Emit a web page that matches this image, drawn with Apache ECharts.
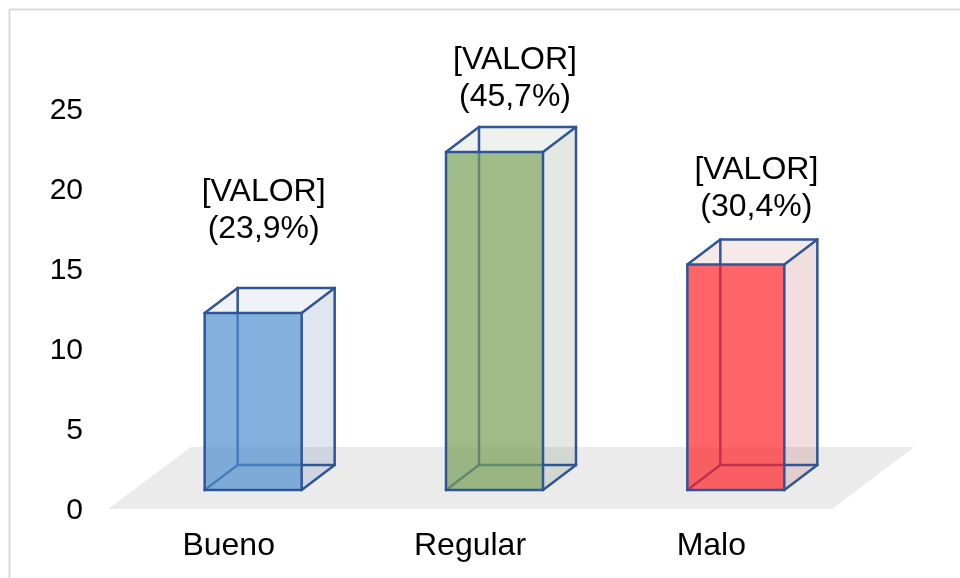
<!DOCTYPE html>
<html>
<head>
<meta charset="utf-8">
<style>html,body{margin:0;padding:0;background:#fff}#c{width:960px;height:578px}</style>
<script src="https://cdn.jsdelivr.net/npm/echarts@6/dist/echarts.min.js"></script>
</head>
<body>
<div id="c"></div>
<script>
const categories = ['Bueno', 'Regular', 'Malo'];
const values = [11, 21, 14];
const percents = ['23,9%', '45,7%', '30,4%'];
const tickValues = [0, 5, 10, 15, 20, 25];

const faceColors = [
  {front: 'rgba(78,142,205,0.7)', side: 'rgba(47,85,151,0.15)', top: 'rgba(47,85,151,0.08)'},
  {front: 'rgba(118,159,85,0.7)', side: 'rgba(68,102,62,0.15)', top: 'rgba(68,102,62,0.09)'},
  {front: 'rgba(255,34,41,0.7)', side: 'rgba(162,42,42,0.15)', top: 'rgba(162,42,42,0.1)'}
];
const edge = '#2f5597';
const FONT = '"Liberation Sans", Arial, sans-serif';
const labelShiftX = [35, 45, 45];
const labelShiftY = [-65, -36, -39];

const DX = 33, DY = -25, BAR = 97, SHIFT = 24.5;

function renderFloor(params, api) {
  const a = api.coord([0, 0]);
  const b = api.coord([2, 0]);
  const band = api.size([1, 0])[0];
  const yFront = a[1] + 19;
  const yBack = a[1] - 43;
  const xl = a[0] - band / 2;
  const xr = b[0] + band / 2;
  return {
    type: 'polygon', silent: true,
    shape: {points: [[xl, yFront], [xr, yFront], [xr + 82, yBack], [xl + 83, yBack]]},
    style: {fill: '#ebebeb'}
  };
}

function line(p, q, stroke) {
  return {type: 'line', shape: {x1: p[0], y1: p[1], x2: q[0], y2: q[1]},
    style: {stroke: stroke, lineWidth: 2.5, lineCap: 'round'}};
}
function poly(points, fill) {
  return {type: 'polygon', shape: {points: points}, style: {fill: fill}};
}

function renderBar(params, api) {
  const i = api.value(0);
  const top = api.coord([i, api.value(1)]);
  const base = api.coord([i, 0]);
  const c = faceColors[i];
  const x0 = top[0] + SHIFT - BAR / 2;
  const x1 = x0 + BAR;
  const yT = top[1], yB = base[1];
  const fTL = [x0, yT], fTR = [x1, yT], fBL = [x0, yB], fBR = [x1, yB];
  const bTL = [x0 + DX, yT + DY], bTR = [x1 + DX, yT + DY];
  const bBL = [x0 + DX, yB + DY], bBR = [x1 + DX, yB + DY];
  return {
    type: 'group', silent: true,
    children: [
      poly([fTR, fBR, bBR, bTR], c.side),
      poly([fTL, fTR, bTR, bTL], c.top),
      line(bTL, bBL, edge), line(bBL, bBR, edge), line(bBL, fBL, edge),
      poly([fTL, fTR, fBR, fBL], c.front),
      line(fTL, fTR, edge), line(fTR, fBR, edge), line(fBR, fBL, edge), line(fBL, fTL, edge),
      line(fTL, bTL, edge), line(bTL, bTR, edge), line(bTR, fTR, edge),
      line(bTR, bBR, edge), line(bBR, fBR, edge)
    ]
  };
}

function renderLabel(params, api) {
  const i = api.value(0);
  const top = api.coord([i, api.value(1)]);
  return {
    type: 'text', silent: true,
    x: top[0] + labelShiftX[i],
    y: top[1] + labelShiftY[i],
    style: {
      text: '[VALOR]\n(' + percents[i] + ')',
      font: '32px ' + FONT, fill: '#000',
      align: 'center', verticalAlign: 'bottom', lineHeight: 37
    }
  };
}

const barData = values.map((v, i) => [i, v]);
const chart = echarts.init(document.getElementById('c'), null, {renderer: 'canvas'});
chart.setOption({
  animation: false,
  backgroundColor: '#fff',
  graphic: [{
    type: 'polyline', silent: true, z: 0,
    shape: {points: [[9.5, 578], [9.5, 9.5], [960, 9.5]]},
    style: {stroke: '#d9d9d9', lineWidth: 2, fill: null}
  }],
  grid: {left: 108, right: 128, top: 110.5, bottom: 67.5},
  xAxis: {
    type: 'category', data: categories,
    axisLine: {show: false}, axisTick: {show: false},
    axisLabel: {fontFamily: FONT, fontSize: 32, color: '#000', margin: 20}
  },
  yAxis: [{
    type: 'value', min: 0, max: 25, interval: 5,
    axisLine: {show: false}, axisTick: {show: false}, splitLine: {show: false},
    axisLabel: {fontFamily: FONT, fontSize: 30, color: '#000', margin: 25,
      customValues: tickValues}
  }, {
    type: 'value', min: -1.273, max: 23.571, show: false, splitLine: {show: false}
  }],
  series: [
    {type: 'custom', yAxisIndex: 1, data: [[0, 0]], renderItem: renderFloor, z: 1, clip: false},
    {type: 'custom', yAxisIndex: 1, data: barData, renderItem: renderBar, z: 2, clip: false},
    {type: 'custom', yAxisIndex: 1, data: barData, renderItem: renderLabel, z: 3, clip: false}
  ]
});
</script>
</body>
</html>
